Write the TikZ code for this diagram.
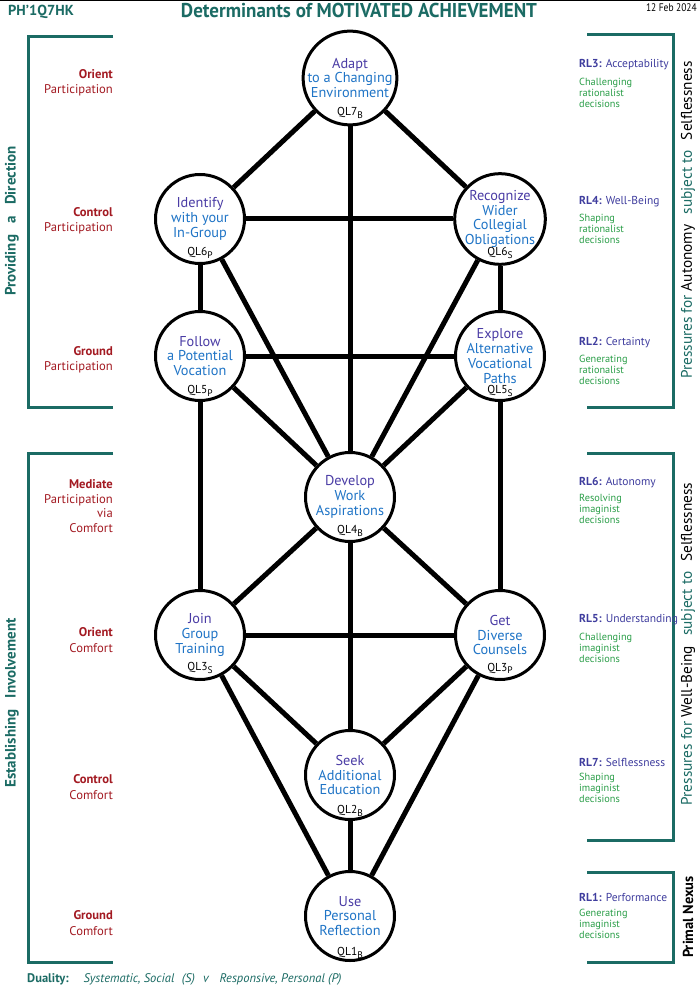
\documentclass[tikz,border=0pt]{standalone}
\usepackage{fontspec}
\setmainfont{PT Sans}
\newfontfamily\condfont[FakeStretch=0.95]{PT Sans}
\newfontfamily\datefont[FakeStretch=0.86]{PT Sans}
\definecolor{tealx}{HTML}{1B6B64}
\definecolor{darkredx}{HTML}{A31A22}
\definecolor{nodepurple}{HTML}{4A3CA5}
\definecolor{nodeblue}{HTML}{1F74C6}
\definecolor{rlblue}{HTML}{3F3D9E}
\definecolor{greenx}{HTML}{2A9E48}
\newcommand{\qlsub}[1]{\raisebox{-2.2pt}{\fontsize{9.5}{10}\selectfont #1}}
\begin{document}
\begin{tikzpicture}[x=1pt,y=-1pt,
  ql/.style={circle,draw=black,line width=3pt,minimum size=89pt,inner sep=0pt,fill=white,align=center,
    font=\fontsize{14.3}{14.8}\selectfont,text=nodeblue},
  qltag/.style={font=\fontsize{11.5}{12}\selectfont,inner sep=0pt,text=black},
  link/.style={line width=5pt,draw=black},
  bracketline/.style={draw=tealx,line width=3pt},
  leftlab/.style={anchor=east,align=right,inner sep=0pt,text=darkredx,font=\fontsize{12.6}{15.5}\selectfont},
  rlhead/.style={anchor=west,inner sep=0pt,text=rlblue,font=\fontsize{11.5}{13}\selectfont},
  rlbody/.style={anchor=west,align=left,inner sep=0pt,text=greenx,font=\fontsize{10.3}{11}\selectfont},
  sidehead/.style={rotate=90,inner sep=0pt,text=tealx,font=\bfseries\fontsize{15}{16}\selectfont},
  righthead/.style={rotate=90,inner sep=0pt,text=tealx,font=\fontsize{15.3}{16}\selectfont}
]
\useasboundingbox (0,0) rectangle (700,992);
\fill[white] (0,0) rectangle (700,992);
\draw[line width=1pt] (0,0.5) -- (700,0.5);

% header
\node[anchor=west,inner sep=0pt,text=tealx,font=\bfseries\fontsize{14.5}{16}\selectfont] (ph) at (8,12) {PH’1Q7HK};
\node[inner sep=0pt,text=tealx,font=\condfont\bfseries\fontsize{20}{22}\selectfont] (title) at (359,11) {Determinants of MOTIVATED ACHIEVEMENT};
\node[anchor=east,inner sep=0pt,font=\datefont\fontsize{11}{12}\selectfont] (date) at (697,8) {12 Feb 2024};

% nodes
\node[ql] (q7) at (350,78) {{\color{nodepurple}Adapt}\\to a Changing\\Environment};
\node[ql] (q6p) at (200,219) {{\color{nodepurple}Identify}\\with your\\In-Group};
\node[ql] (q6s) at (500,219) {{\color{nodepurple}Recognize}\\Wider\\Collegial\\Obligations};
\node[ql] (q5p) at (200,356) {{\color{nodepurple}Follow}\\a Potential\\Vocation};
\node[ql] (q5s) at (500,356) {{\color{nodepurple}Explore}\\Alternative\\Vocational\\Paths};
\node[ql] (q4) at (350,497) {{\color{nodepurple}Develop}\\Work\\Aspirations};
\node[ql] (q3s) at (200,635) {{\color{nodepurple}Join}\\Group\\Training};
\node[ql] (q3p) at (500,635) {{\color{nodepurple}Get}\\Diverse\\Counsels};
\node[ql] (q2) at (350,775) {{\color{nodepurple}Seek}\\Additional\\Education};
\node[ql] (q1) at (350,916) {{\color{nodepurple}Use}\\Personal\\Reflection};

% edges
\foreach \a/\b in {q7/q6p,q7/q6s,q7/q4,q6p/q6s,q6p/q5p,q6p/q4,q6s/q5s,q6s/q4,
  q5p/q5s,q5p/q4,q5s/q4,q5p/q3s,q5s/q3p,q4/q3s,q4/q3p,q4/q2,q3s/q3p,
  q3s/q2,q3p/q2,q3s/q1,q3p/q1,q2/q1}
  \draw[link] (\a) -- (\b);

% tags
\node[qltag] (t7) at (350,113) {QL7\qlsub{B}};
\node[qltag] (t6p) at (200,253) {QL6\qlsub{P}};
\node[qltag] (t6s) at (500,253) {QL6\qlsub{S}};
\node[qltag] (t5p) at (200,391) {QL5\qlsub{P}};
\node[qltag] (t5s) at (500,391) {QL5\qlsub{S}};
\node[qltag] (t4) at (350,531) {QL4\qlsub{B}};
\node[qltag] (t3s) at (200,668) {QL3\qlsub{S}};
\node[qltag] (t3p) at (500,668) {QL3\qlsub{P}};
\node[qltag] (t2) at (350,811) {QL2\qlsub{B}};
\node[qltag] (t1) at (350,953) {QL1\qlsub{B}};

% left brackets
\draw[bracketline] (113,37) -- (28,37) -- (28,407) -- (113,407);
\draw[bracketline] (113,453) -- (28,453) -- (28,962) -- (113,962);
\node[sidehead] (pd) at (12,221) {Providing\hspace{0.5em} a\hspace{0.5em} Direction};
\node[sidehead] (ei) at (12,703) {Establishing\hspace{0.5em} Involvement};

\node[leftlab] (l1) at (113,83) {\textbf{Orient}\\Participation};
\node[leftlab] (l2) at (113,221) {\textbf{Control}\\Participation};
\node[leftlab] (l3) at (113,360) {\textbf{Ground}\\Participation};
\node[leftlab,font=\fontsize{12.6}{14.5}\selectfont] (l4) at (113,506) {\textbf{Mediate}\\Participation\\via\\Comfort};
\node[leftlab] (l5) at (113,640) {\textbf{Orient}\\Comfort};
\node[leftlab] (l6) at (113,787) {\textbf{Control}\\Comfort};
\node[leftlab] (l7) at (113,923) {\textbf{Ground}\\Comfort};

% right brackets
\draw[bracketline] (587,35) -- (673,35) -- (673,407) -- (587,407);
\draw[bracketline] (587,453) -- (673,453) -- (673,840) -- (587,840);
\draw[bracketline] (587,872) -- (673,872) -- (673,962) -- (587,962);
\node[righthead] (ra) at (688,220) {Pressures for \textcolor{black}{Autonomy}\hspace{0.4em} subject to\hspace{0.4em} \textcolor{black}{Selflessness}};
\node[righthead] (rb) at (688,644) {Pressures for \textcolor{black}{Well-Being}\hspace{0.4em} subject to\hspace{0.4em} \textcolor{black}{Selflessness}};
\node[righthead,text=black,font=\bfseries\fontsize{14.5}{15}\selectfont] (rc) at (688,917) {Primal Nexus};

\node[rlhead] (h3) at (579,65) {\textbf{RL3:} Acceptability};
\node[rlbody] (b3) at (579,93) {Challenging\\rationalist\\decisions};
\node[rlhead] (h4) at (579,202) {\textbf{RL4:} Well-Being};
\node[rlbody] (b4) at (579,229) {Shaping\\rationalist\\decisions};
\node[rlhead] (h2) at (579,343) {\textbf{RL2:} Certainty};
\node[rlbody] (b2) at (579,370) {Generating\\rationalist\\decisions};
\node[rlhead] (h6) at (579,483) {\textbf{RL6:} Autonomy};
\node[rlbody] (b6) at (579,509) {Resolving\\imaginist\\decisions};
\node[rlhead] (h5) at (579,620) {\textbf{RL5:} Understanding};
\node[rlbody] (b5) at (579,648) {Challenging\\imaginist\\decisions};
\node[rlhead] (h7) at (579,762) {\textbf{RL7:} Selflessness};
\node[rlbody] (b7) at (579,788) {Shaping\\imaginist\\decisions};
\node[rlhead] (h1) at (579,897) {\textbf{RL1:} Performance};
\node[rlbody] (b1) at (579,924) {Generating\\imaginist\\decisions};

% footer
\node[anchor=west,inner sep=0pt,text=tealx,font=\fontsize{12.5}{14}\selectfont] (dual) at (27,979)
  {\textbf{Duality:}\hspace{1.2em}\textit{Systematic, Social\hspace{0.6em}(S)\hspace{0.4em} v\hspace{0.6em} Responsive, Personal (P)}};
\end{tikzpicture}
\end{document}
